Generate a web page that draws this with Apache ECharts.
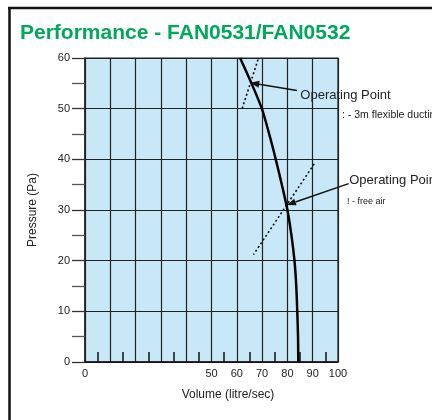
<!DOCTYPE html>
<html>
<head>
<meta charset="utf-8">
<script src="https://cdn.jsdelivr.net/npm/echarts@6/dist/echarts.min.js"></script>
<style>
html,body{margin:0;padding:0;background:#fff;}
#chart{width:432px;height:420px;}
</style>
</head>
<body>
<div id="chart"></div>
<script>
// ---- data ----
const titleText = 'Performance - FAN0531/FAN0532';
const xAxisName = 'Volume (litre/sec)';
const yAxisName = 'Pressure (Pa)';
const xTickLabels = [0, 50, 60, 70, 80, 90, 100];
const fanVolume   = [61.3, 65.8, 69.9, 72.8, 75.4, 77.8, 80.0, 81.6, 82.8, 83.5, 83.9, 84.2, 84.3];
const fanPressure = [60,   55,   50,   45,   40,   35,   30,   25,   20,   15,   10,   5,    0];
const ductCurve    = [[68.4, 59.7], [62.1, 50.0]];
const freeAirCurve = [[90.6, 39.1], [66.6, 21.2]];
const opPoints     = [[65.3, 55.1], [79.8, 31.0]];
const labelAnchors = [[83.8, 53.6], [104.2, 35.2]];
const opLabels     = ['Operating Point', 'Operating Point'];
const opSubLabels  = [': - 3m flexible ducting', '! - free air'];

// ---- styling (layout only) ----
const FONT = '"Liberation Sans", Arial, Helvetica, sans-serif';
const labelOffsets = [[3.3, 5], [0.6, -3.4]];
const subOffsets   = [[45, 24.4], [-1.7, 18.3]];
const subSizes     = [10.5, 9];

const chart = echarts.init(document.getElementById('chart'), null, {renderer: 'canvas'});

const fanData = fanVolume.map((v, i) => [v, fanPressure[i]]);
const arrowData = opPoints.map((p, i) => [p[0], p[1], labelAnchors[i][0], labelAnchors[i][1]]);

const option = {
  animation: false,
  backgroundColor: '#fff',
  textStyle: {fontFamily: FONT},
  grid: {
    left: 85, right: 94, top: 58, bottom: 58,
    show: true, backgroundColor: '#c8e8f8', borderColor: '#222', borderWidth: 1.2
  },
  graphic: [
    {type: 'line', shape: {x1: 8, y1: 8, x2: 432, y2: 8}, style: {stroke: '#111', lineWidth: 2.5}, z: 100},
    {type: 'line', shape: {x1: 9.5, y1: 7, x2: 9.5, y2: 420}, style: {stroke: '#111', lineWidth: 2.5}, z: 100},
    {type: 'text', left: 20, top: 23,
     style: {text: titleText, fill: '#00a859', font: 'bold 21px ' + FONT}}
  ],
  xAxis: {
    type: 'value', min: 0, max: 100, interval: 10,
    name: xAxisName, nameLocation: 'middle', nameGap: 27,
    nameTextStyle: {color: '#222', fontSize: 12, fontFamily: FONT, padding: [0, 0, 0, 33]},
    axisLine: {show: true, lineStyle: {color: '#111', width: 1.5}},
    axisTick: {show: false, inside: true},
    minorTick: {show: true, splitNumber: 2, length: 10, lineStyle: {color: '#111', width: 1.5}},
    axisLabel: {
      color: '#222', fontSize: 11, fontFamily: FONT, margin: 6,
      formatter: v => (xTickLabels.indexOf(v) >= 0 ? String(v) : '')
    },
    splitLine: {show: true, lineStyle: {color: '#222', width: 1.2}}
  },
  yAxis: {
    type: 'value', min: 0, max: 60, interval: 10,
    name: yAxisName, nameLocation: 'middle', nameGap: 46, nameRotate: 90,
    nameTextStyle: {color: '#222', fontSize: 12, fontFamily: FONT},
    axisLine: {show: true, lineStyle: {color: '#222', width: 1.5}},
    axisTick: {show: true, inside: false, length: 13, lineStyle: {color: '#333', width: 1.3}},
    minorTick: {show: true, splitNumber: 2, length: 13, lineStyle: {color: '#555', width: 1.3}},
    axisLabel: {color: '#222', fontSize: 11, fontFamily: FONT, margin: 15},
    splitLine: {show: true, lineStyle: {color: '#222', width: 1.2}}
  },
  series: [
    {
      type: 'line', data: fanData, smooth: 0.3, symbol: 'none',
      lineStyle: {color: '#000', width: 2.5}, z: 5
    },
    {
      type: 'line', data: ductCurve, symbol: 'none',
      lineStyle: {color: '#111', width: 1.6, type: [2, 2.5]}, z: 4
    },
    {
      type: 'line', data: freeAirCurve, symbol: 'none',
      lineStyle: {color: '#111', width: 1.6, type: [2, 2.5]}, z: 4
    },
    {
      type: 'custom', data: arrowData, clip: false, z: 10,
      encode: {x: [0, 2], y: [1, 3]},
      renderItem: function (params, api) {
        const i = params.dataIndex;
        const head = api.coord([api.value(0), api.value(1)]);
        const tail = api.coord([api.value(2), api.value(3)]);
        const dx = head[0] - tail[0], dy = head[1] - tail[1];
        const len = Math.sqrt(dx * dx + dy * dy);
        const ux = dx / len, uy = dy / len;
        const L = 9, W = 3.5;
        const bx = head[0] - ux * L, by = head[1] - uy * L;
        const px = -uy, py = ux;
        return {
          type: 'group',
          children: [
            {type: 'line', shape: {x1: tail[0], y1: tail[1], x2: bx, y2: by},
             style: {stroke: '#111', lineWidth: 1.5}},
            {type: 'polygon', shape: {points: [head, [bx + px * W, by + py * W], [bx - px * W, by - py * W]]},
             style: {fill: '#111'}},
            {type: 'text', style: {text: opLabels[i],
              x: tail[0] + labelOffsets[i][0], y: tail[1] + labelOffsets[i][1],
              fill: '#222', font: '13px ' + FONT, verticalAlign: 'middle', align: 'left'}},
            {type: 'text', style: {text: opSubLabels[i],
              x: tail[0] + subOffsets[i][0], y: tail[1] + subOffsets[i][1],
              fill: '#222', font: subSizes[i] + 'px ' + FONT, verticalAlign: 'middle', align: 'left'}}
          ]
        };
      }
    }
  ]
};
chart.setOption(option);
</script>
</body>
</html>
